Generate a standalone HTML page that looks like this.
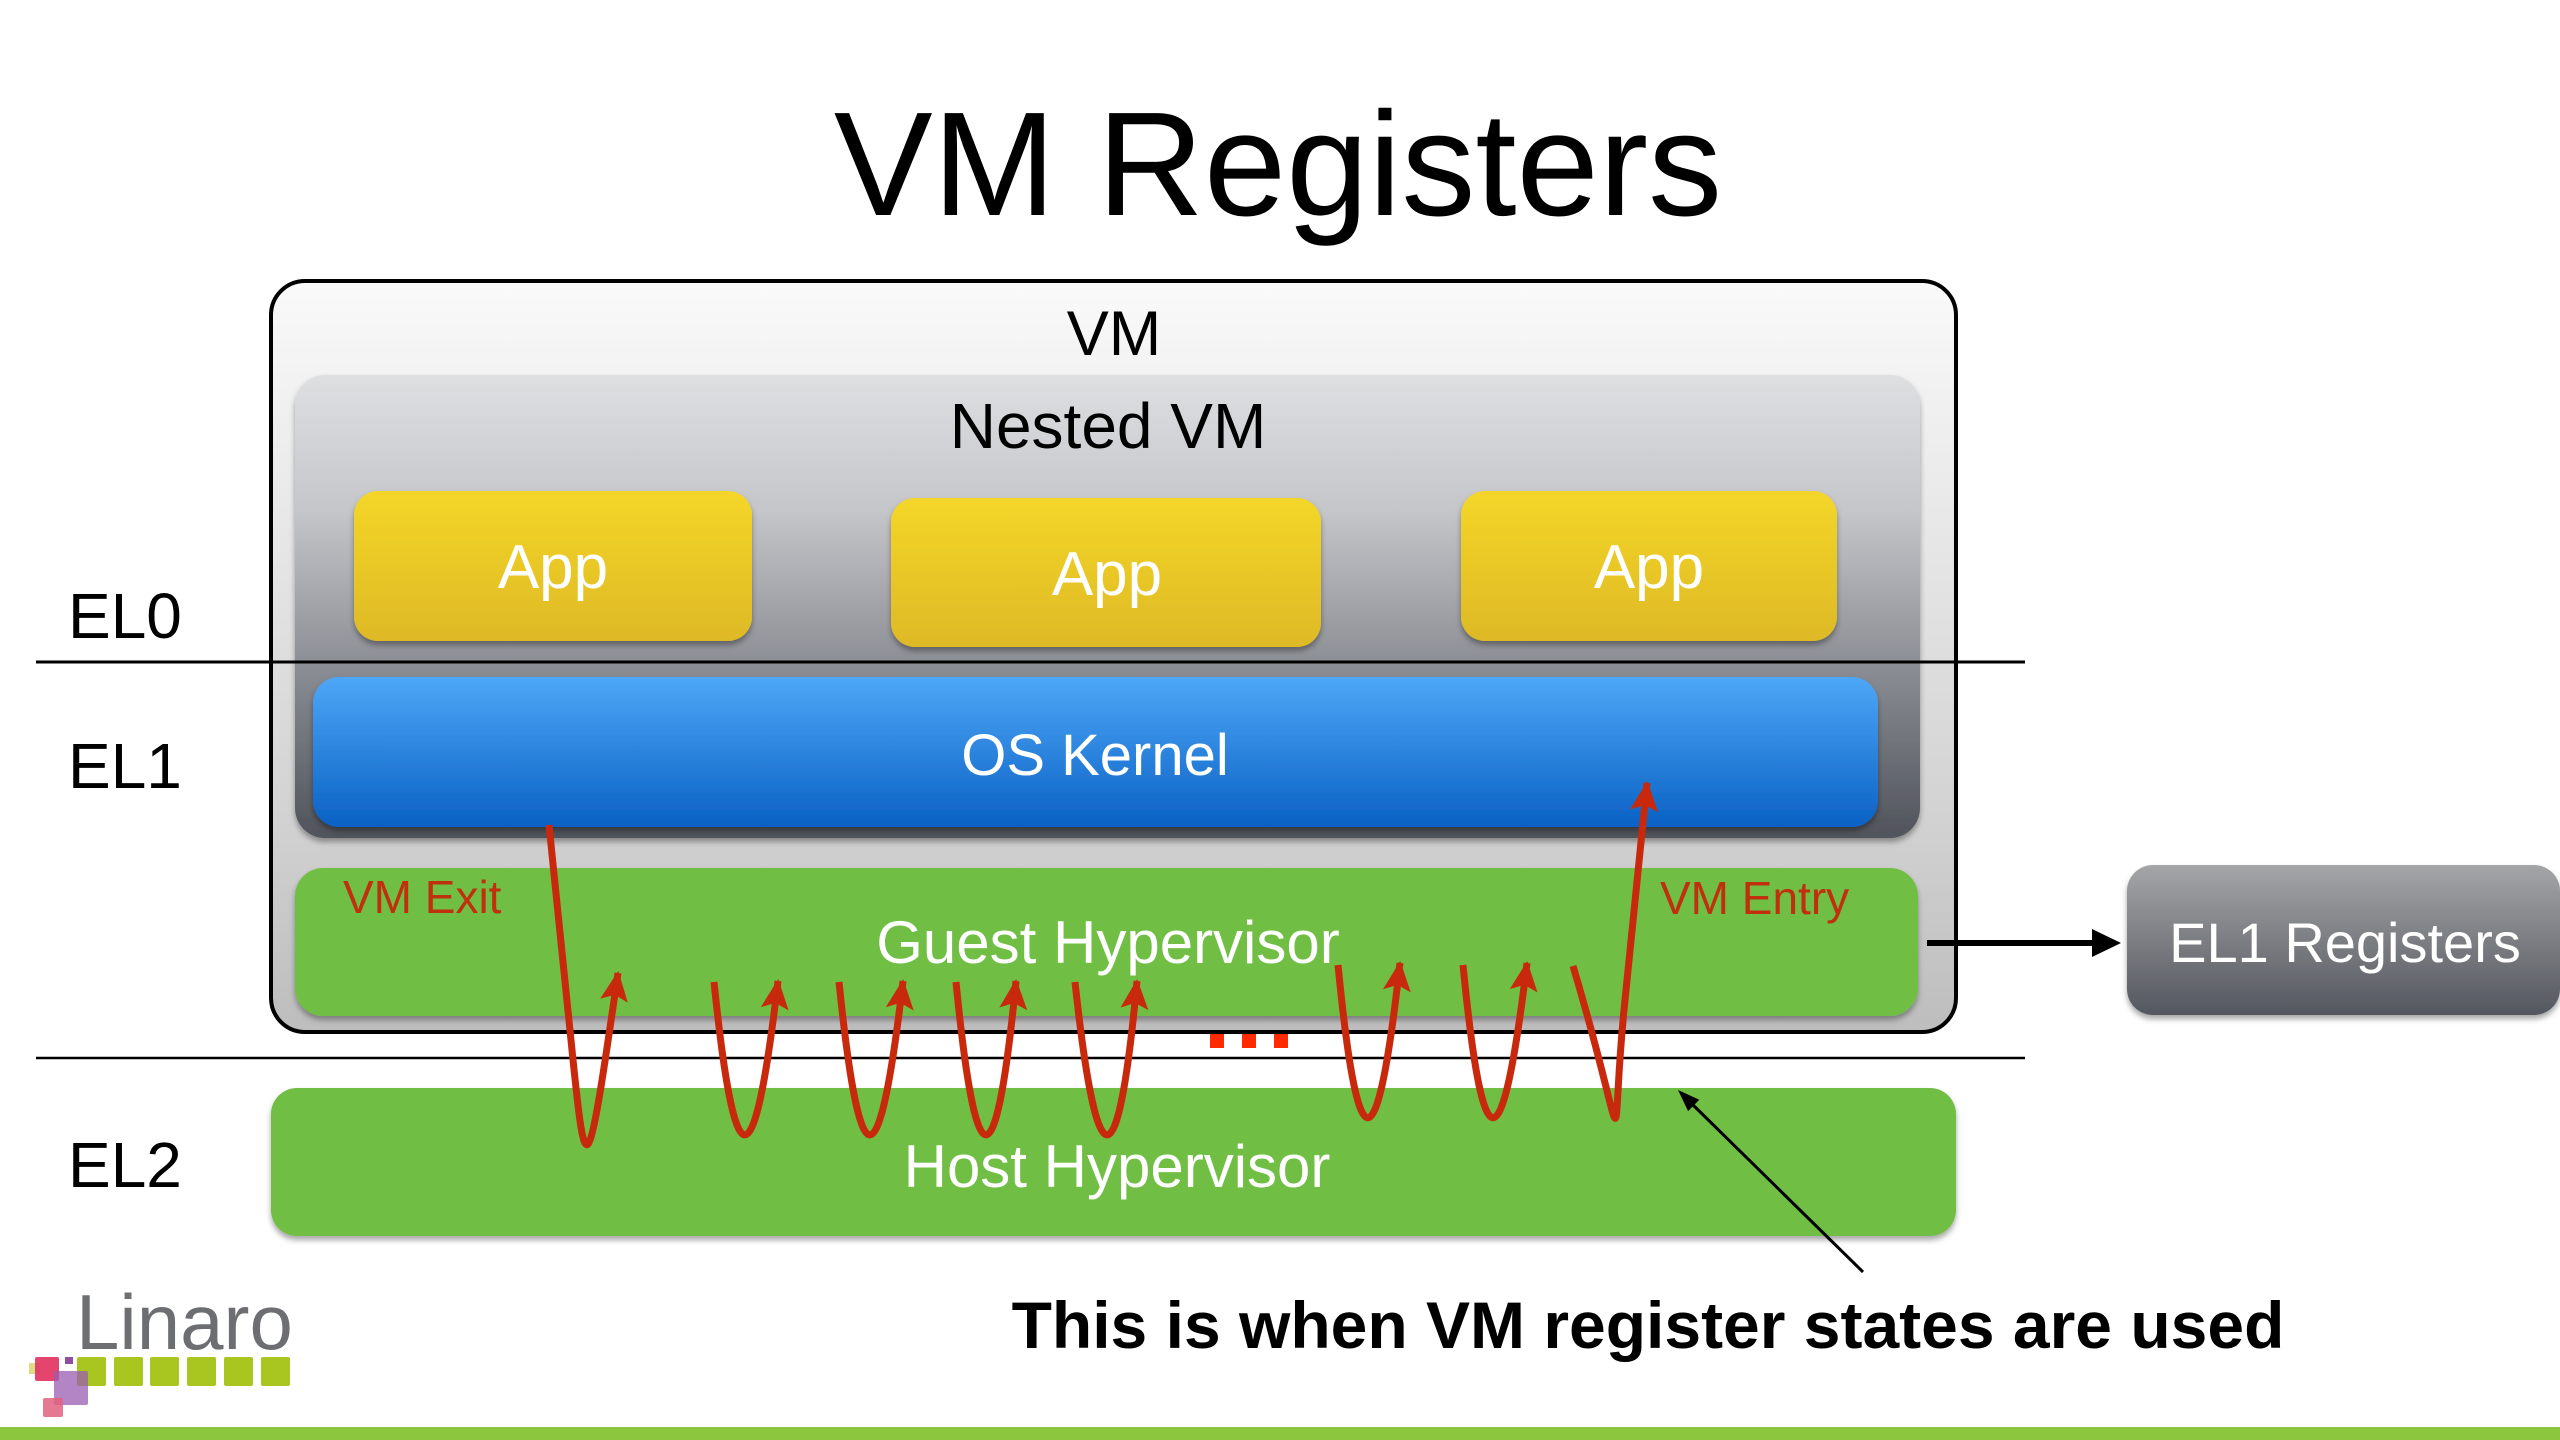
<!DOCTYPE html>
<html>
<head>
<meta charset="utf-8">
<style>
  html,body{margin:0;padding:0;background:#fff;}
  body{width:2560px;height:1440px;overflow:hidden;}
  svg{display:block;}
  text{font-family:"Liberation Sans",Arial,sans-serif;}
</style>
</head>
<body>
<svg width="2560" height="1440" viewBox="0 0 2560 1440" xmlns="http://www.w3.org/2000/svg">
  <defs>
    <linearGradient id="gVM" x1="0" y1="0" x2="0" y2="1">
      <stop offset="0" stop-color="#fafafa"/>
      <stop offset="0.15" stop-color="#f1f1f1"/>
      <stop offset="0.7" stop-color="#d3d3d3"/>
      <stop offset="1" stop-color="#bdbdbd"/>
    </linearGradient>
    <linearGradient id="gNest" x1="0" y1="0" x2="0" y2="1">
      <stop offset="0" stop-color="#dedfe1"/>
      <stop offset="0.3" stop-color="#c4c5c9"/>
      <stop offset="0.62" stop-color="#8c8f95"/>
      <stop offset="1" stop-color="#50535b"/>
    </linearGradient>
    <linearGradient id="gApp" x1="0" y1="0" x2="0" y2="1">
      <stop offset="0" stop-color="#f4d629"/>
      <stop offset="1" stop-color="#deb925"/>
    </linearGradient>
    <linearGradient id="gOS" x1="0" y1="0" x2="0" y2="1">
      <stop offset="0" stop-color="#4ea7f7"/>
      <stop offset="1" stop-color="#0a61c4"/>
    </linearGradient>
    <linearGradient id="gReg" x1="0" y1="0" x2="0" y2="1">
      <stop offset="0" stop-color="#a3a5a7"/>
      <stop offset="1" stop-color="#54575f"/>
    </linearGradient>
    <filter id="sh" x="-5%" y="-10%" width="110%" height="130%">
      <feDropShadow dx="0" dy="4" stdDeviation="3" flood-color="#000" flood-opacity="0.35"/>
    </filter>
    <marker id="ah" viewBox="0 0 30 30" refX="28" refY="15" markerWidth="30" markerHeight="30" markerUnits="userSpaceOnUse" orient="auto">
      <path d="M0,1 L30,15 L0,29 L6,15 z" fill="#c8290c"/>
    </marker>
  </defs>

  <!-- Title -->
  <text x="1278" y="215" font-size="148" text-anchor="middle" fill="#000">VM Registers</text>

  <!-- VM box -->
  <rect x="271" y="281" width="1685" height="751" rx="34" ry="34" fill="url(#gVM)" stroke="#000" stroke-width="4"/>
  <text x="1114" y="355" font-size="63" text-anchor="middle" fill="#000">VM</text>

  <!-- Nested VM -->
  <rect x="295" y="375" width="1625" height="463" rx="30" ry="30" fill="url(#gNest)" filter="url(#sh)"/>
  <text x="1108" y="448" font-size="64" text-anchor="middle" fill="#000">Nested VM</text>

  <!-- Apps -->
  <rect x="354" y="491" width="398" height="150" rx="24" ry="24" fill="url(#gApp)" filter="url(#sh)"/>
  <text x="553" y="588" font-size="62" text-anchor="middle" fill="#fff">App</text>
  <rect x="891" y="498" width="430" height="149" rx="24" ry="24" fill="url(#gApp)" filter="url(#sh)"/>
  <text x="1107" y="595" font-size="62" text-anchor="middle" fill="#fff">App</text>
  <rect x="1461" y="491" width="376" height="150" rx="24" ry="24" fill="url(#gApp)" filter="url(#sh)"/>
  <text x="1649" y="588" font-size="62" text-anchor="middle" fill="#fff">App</text>

  <!-- OS Kernel -->
  <rect x="313" y="677" width="1565" height="150" rx="26" ry="26" fill="url(#gOS)" filter="url(#sh)"/>
  <text x="1095" y="775" font-size="58" text-anchor="middle" fill="#fff">OS Kernel</text>

  <!-- Guest Hypervisor -->
  <rect x="295" y="868" width="1623" height="148" rx="28" ry="28" fill="#71be44" filter="url(#sh)"/>
  <text x="1108" y="963" font-size="60" text-anchor="middle" fill="#fff">Guest Hypervisor</text>
  <text x="343" y="913" font-size="46" fill="#c0300c">VM Exit</text>
  <text x="1660" y="914" font-size="46" fill="#c0300c">VM Entry</text>

  <!-- Host Hypervisor -->
  <rect x="271" y="1088" width="1685" height="148" rx="26" ry="26" fill="#71be44" filter="url(#sh)"/>
  <text x="1117" y="1187" font-size="60" text-anchor="middle" fill="#fff">Host Hypervisor</text>

  <!-- EL lines -->
  <line x1="36" y1="662" x2="2025" y2="662" stroke="#000" stroke-width="3"/>
  <line x1="36" y1="1058" x2="2025" y2="1058" stroke="#000" stroke-width="2.5"/>

  <!-- EL labels -->
  <text x="68" y="638" font-size="64" fill="#000">EL0</text>
  <text x="68" y="788" font-size="64" fill="#000">EL1</text>
  <text x="68" y="1187" font-size="64" fill="#000">EL2</text>

  <!-- EL1 Registers -->
  <rect x="2127" y="865" width="433" height="150" rx="26" ry="26" fill="url(#gReg)" filter="url(#sh)"/>
  <text x="2345" y="962" font-size="56" text-anchor="middle" fill="#fff">EL1 Registers</text>

  <!-- arrow to EL1 registers -->
  <line x1="1927" y1="943" x2="2095" y2="943" stroke="#000" stroke-width="6"/>
  <polygon points="2092,929 2121,943 2092,957" fill="#000"/>

  <!-- Red loops -->
  <g fill="none" stroke="#c8290c" stroke-width="7" stroke-linecap="butt">
    <path d="M549,825 L572,1050 C586,1187 587,1187 618,973" marker-end="url(#ah)"/>
    <path d="M714,982 C735,1186 754,1186 778,981" marker-end="url(#ah)"/>
    <path d="M839,982 C860,1186 879,1186 903,981" marker-end="url(#ah)"/>
    <path d="M956,982 C976,1186 996,1186 1016,981" marker-end="url(#ah)"/>
    <path d="M1075,982 C1097,1186 1118,1186 1137,981" marker-end="url(#ah)"/>
    <path d="M1338,965 C1358,1169 1377,1169 1400,963" marker-end="url(#ah)"/>
    <path d="M1463,965 C1483,1169 1502,1169 1527,963" marker-end="url(#ah)"/>
    <path d="M1573,966 C1632,1163 1608,1163 1625,1000 L1647,783" marker-end="url(#ah)"/>
  </g>

  <!-- red dots -->
  <rect x="1210" y="1034" width="14" height="14" fill="#ff2a00"/>
  <rect x="1242" y="1034" width="14" height="14" fill="#ff2a00"/>
  <rect x="1274" y="1034" width="14" height="14" fill="#ff2a00"/>

  <!-- pointer arrow -->
  <line x1="1863" y1="1272" x2="1690" y2="1102" stroke="#000" stroke-width="3"/>
  <polygon points="1678,1090 1699.3,1099.7 1688.1,1111.1" fill="#000"/>

  <!-- bottom caption -->
  <text x="1648" y="1348" font-size="66" font-weight="bold" text-anchor="middle" fill="#000">This is when VM register states are used</text>

  <!-- Linaro logo -->
  <text x="76" y="1349" font-size="78" fill="#6d6e71">Linaro</text>
  <g fill="#a9c51f">
    <rect x="77" y="1357" width="29" height="29" rx="2"/>
    <rect x="114" y="1357" width="29" height="29" rx="2"/>
    <rect x="150" y="1357" width="29" height="29" rx="2"/>
    <rect x="187" y="1357" width="29" height="29" rx="2"/>
    <rect x="224" y="1357" width="29" height="29" rx="2"/>
    <rect x="261" y="1357" width="29" height="29" rx="2"/>
  </g>
  <rect x="29" y="1363" width="11" height="11" fill="#d6d36a" opacity="0.8"/>
  <rect x="35" y="1357" width="24" height="24" rx="2" fill="#e0315f" opacity="0.9"/>
  <rect x="65" y="1357" width="8" height="7" fill="#8f4fa0"/>
  <rect x="54" y="1371" width="34" height="34" rx="2" fill="#9b5cb0" opacity="0.75"/>
  <rect x="43" y="1398" width="20" height="19" rx="2" fill="#e2607f" opacity="0.85"/>

  <!-- bottom green bar -->
  <rect x="0" y="1427" width="2560" height="13" fill="#8cc63f"/>
</svg>
</body>
</html>
